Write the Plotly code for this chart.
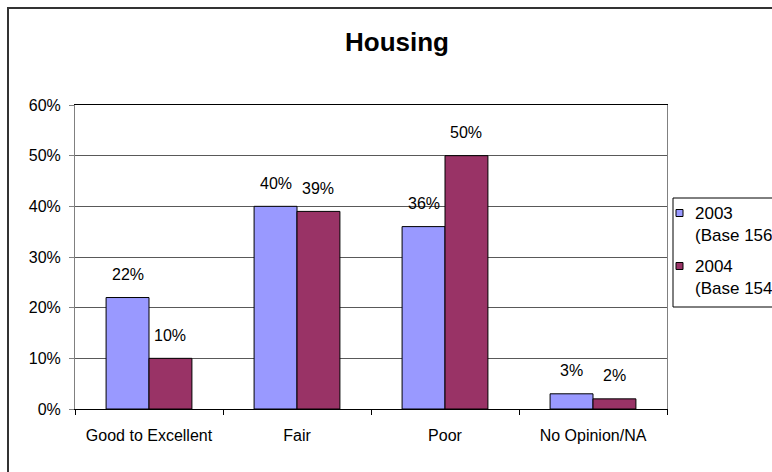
import plotly.graph_objects as go

# ---- data ----
categories = ["Good to Excellent", "Fair", "Poor", "No Opinion/NA"]
values_2003 = [0.22, 0.40, 0.36, 0.03]
values_2004 = [0.10, 0.39, 0.50, 0.02]
series_names = ["2003", "2004"]
series_bases = ["(Base 156)", "(Base 154)"]
y_tick_values = [0, 0.1, 0.2, 0.3, 0.4, 0.5, 0.6]
y_tick_labels = ["0%", "10%", "20%", "30%", "40%", "50%", "60%"]
title_text = "Housing"

# ---- styling ----
colors = ["#9999FF", "#993366"]
FONT = "Liberation Sans, Arial, sans-serif"
W, H = 772, 472
ML, MR, MT, MB = 75, 105, 105, 63
PW, PH = W - ML - MR, H - MT - MB
BARGAP = 0.42


def px(x):
    return (x - ML) / PW


def py(y):
    return (H - MB - y) / PH


fig = go.Figure()
series_values = [values_2003, values_2004]
for name, vals, col in zip(series_names, series_values, colors):
    fig.add_trace(go.Bar(
        x=categories, y=vals, name=name,
        marker=dict(color=col, line=dict(color="#000000", width=1)),
        showlegend=False, hoverinfo="x+y",
    ))

# data labels above bars
bar_px = PW / len(categories) * (1 - BARGAP) / 2
annotations = []
for i, vals in enumerate(series_values):
    shift = (i - 0.5) * bar_px
    for c, v in zip(categories, vals):
        annotations.append(dict(
            x=c, y=v, xref="x", yref="y", text=f"{round(v * 100)}%",
            showarrow=False, xshift=shift, yshift=23, yanchor="middle",
            font=dict(family=FONT, size=16, color="#000000"),
        ))

# manual legend (box clipped on the right like the reference)
shapes = [
    # outer chart frame (left and top edges visible)
    dict(type="rect", xref="paper", yref="paper",
         x0=px(8), y0=py(8), x1=px(1000), y1=py(700),
         line=dict(color="#333333", width=2), layer="below"),
    dict(type="rect", xref="paper", yref="paper",
         x0=px(673), y0=py(198), x1=px(900), y1=py(307),
         line=dict(color="#000000", width=1), fillcolor="#FFFFFF"),
]
legend_rows = [(213, 235), (266, 288)]
for (ytop, ybase), name, base, col in zip(legend_rows, series_names, series_bases, colors):
    shapes.append(dict(type="rect", xref="paper", yref="paper",
                       x0=px(676), y0=py(ytop - 3.5), x1=px(683), y1=py(ytop + 3.5),
                       line=dict(color="#000000", width=1), fillcolor=col))
    annotations.append(dict(x=px(693), y=py(ytop), xref="paper", yref="paper",
                            text=name, showarrow=False, xanchor="left", yanchor="middle",
                            font=dict(family=FONT, size=17, color="#000000")))
    annotations.append(dict(x=px(693), y=py(ybase), xref="paper", yref="paper",
                            text=base, showarrow=False, xanchor="left", yanchor="middle",
                            font=dict(family=FONT, size=17, color="#000000")))

fig.update_layout(
    width=W, height=H,
    margin=dict(l=ML, r=MR, t=MT, b=MB, pad=0),
    paper_bgcolor="#FFFFFF", plot_bgcolor="#FFFFFF",
    barmode="group", bargap=BARGAP, bargroupgap=0,
    title=dict(text=f"<b>{title_text}</b>", x=397 / W, y=1 - 42 / H,
               xref="container", yref="container", xanchor="center", yanchor="middle",
               font=dict(family=FONT, size=26, color="#000000")),
    font=dict(family=FONT, size=16, color="#000000"),
    showlegend=False,
    shapes=shapes,
    annotations=annotations,
    xaxis=dict(type="category", ticks="outside", tickson="boundaries", ticklen=5,
               tickcolor="#000000", showline=True, linecolor="#000000", linewidth=1,
               mirror=True, showgrid=False, ticklabelstandoff=12,
               tickfont=dict(family=FONT, size=16, color="#000000")),
    yaxis=dict(range=[0, 0.6], tickvals=y_tick_values, ticktext=y_tick_labels,
               ticks="outside", ticklen=5, tickcolor="#808080",
               showline=True, linecolor="#808080", linewidth=1, mirror=True,
               showgrid=True, gridcolor="#595959", gridwidth=1, zeroline=False,
               ticklabelstandoff=5,
               tickfont=dict(family=FONT, size=16, color="#000000")),
)

fig.write_html(
    "out.html",
    config={"displayModeBar": False},
    post_script="document.body.style.margin='0';document.body.style.overflow='hidden';",
)
